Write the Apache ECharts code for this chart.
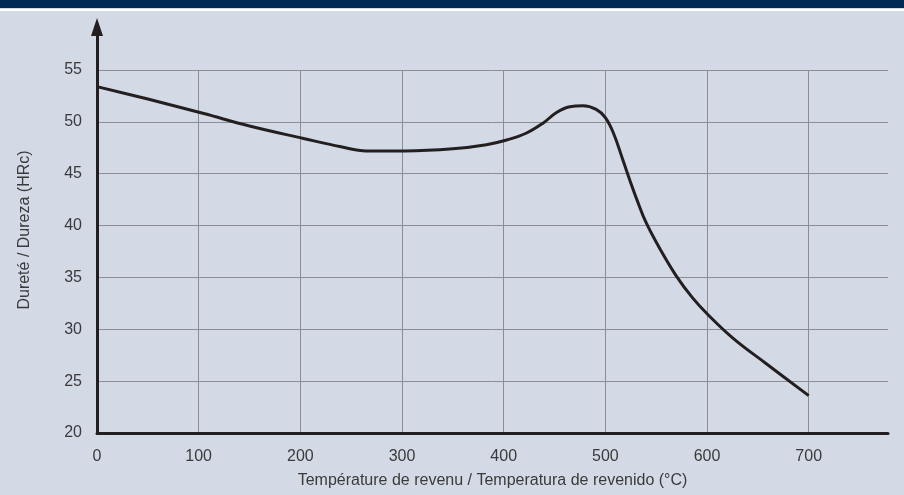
<!DOCTYPE html>
<html>
<head>
<meta charset="utf-8">
<script src="https://cdn.jsdelivr.net/npm/echarts@6/dist/echarts.min.js"></script>
<style>
  html, body { margin: 0; padding: 0; background: #d3dae6; }
  #main { width: 904px; height: 495px; }
</style>
</head>
<body>
<div id="main"></div>
<script>
// temperatura (°C) / dureza (HRc)
var temps = [0, 50, 105, 150, 203, 240, 265, 303, 350, 383, 403, 422, 439, 452, 465, 478, 491, 500, 508, 517, 524, 531, 540, 554, 570, 586, 601, 626, 658, 700];
var hardness = [53.4, 52.2, 50.8, 49.6, 48.4, 47.6, 47.2, 47.2, 47.4, 47.8, 48.25, 48.9, 49.9, 50.9, 51.45, 51.55, 51.2, 50.4, 48.9, 46.4, 44.4, 42.5, 40.3, 37.7, 35.1, 33.0, 31.4, 29.1, 26.7, 23.6];

var xName = 'Température de revenu / Temperatura de revenido (°C)';
var yName = 'Dureté / Dureza (HRc)';

var points = [];
for (var i = 0; i < temps.length; i++) {
  points.push([temps[i], hardness[i]]);
}

var ink = '#231f20';
var txt = '#3a3a3a';
var gridCol = '#8c8e93';
var font = '"Liberation Sans", Arial, sans-serif';

var myChart = echarts.init(document.getElementById('main'));
var option = {
  backgroundColor: '#d3dae6',
  animation: false,
  graphic: [
    { type: 'rect', left: 0, top: 0, shape: { width: 904, height: 8 }, style: { fill: '#002855' } },
    { type: 'rect', left: 0, top: 9, shape: { width: 904, height: 2 }, style: { fill: '#ffffff' } }
  ],
  grid: [
    { left: 97, right: 16, top: 70, bottom: 62 },
    { left: 97, right: 16, top: 27, bottom: 62 }
  ],
  xAxis: [
    {
      gridIndex: 0,
      type: 'value',
      min: 0,
      max: 778,
      interval: 100,
      name: xName,
      nameLocation: 'middle',
      nameGap: 40,
      nameTextStyle: { color: txt, fontSize: 16, fontFamily: font },
      axisLine: { show: true, lineStyle: { color: ink, width: 3 } },
      axisTick: { show: false },
      axisLabel: { color: txt, fontSize: 16, fontFamily: font, margin: 16, showMaxLabel: false },
      splitLine: { show: true, showMinLine: false, showMaxLine: false, lineStyle: { color: gridCol, width: 1 } }
    },
    {
      gridIndex: 1,
      type: 'value',
      min: 0,
      max: 1,
      show: false
    }
  ],
  yAxis: [
    {
      gridIndex: 0,
      type: 'value',
      min: 20,
      max: 55,
      interval: 5,
      axisLine: { show: false },
      axisTick: { show: false },
      axisLabel: { color: txt, fontSize: 16, fontFamily: font, margin: 15 },
      splitLine: { show: true, showMinLine: false, lineStyle: { color: gridCol, width: 1 } }
    },
    {
      // tall axis only for the arrow line
      gridIndex: 1,
      type: 'value',
      min: 0,
      max: 1,
      name: yName,
      nameLocation: 'middle',
      nameGap: 64,
      nameTextStyle: { color: txt, fontSize: 16, fontFamily: font },
      axisLine: {
        show: true,
        symbol: ['none', 'triangle'],
        symbolSize: [12, 18],
        lineStyle: { color: ink, width: 3 }
      },
      axisTick: { show: false },
      axisLabel: { show: false },
      splitLine: { show: false }
    }
  ],
  series: [
    {
      type: 'line',
      xAxisIndex: 0,
      yAxisIndex: 0,
      data: points,
      smooth: 0.4,
      showSymbol: false,
      lineStyle: { color: ink, width: 3 },
      z: 5
    }
  ]
};
myChart.setOption(option);
</script>
</body>
</html>
